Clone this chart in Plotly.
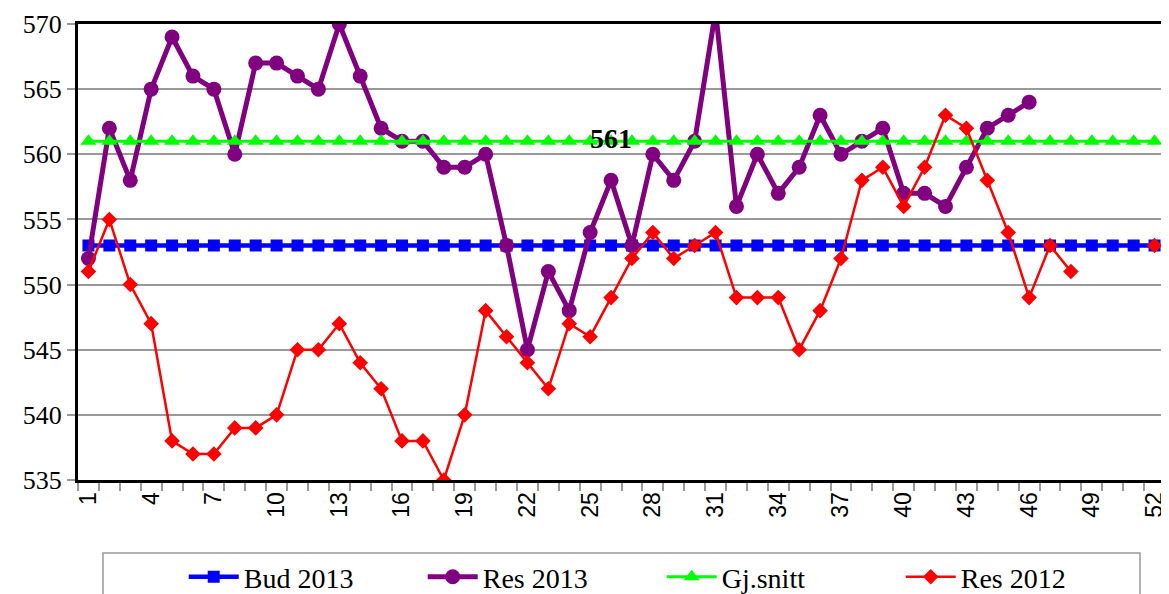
import plotly.graph_objects as go

weeks = list(range(1, 53))
bud_2013 = [553] * 52
gj_snitt = [561] * 52
res_2013 = [552, 562, 558, 565, 569, 566, 565, 560, 567, 567, 566, 565, 570, 566, 562, 561,
            561, 559, 559, 560, 553, 545, 551, 548, 554, 558, 553, 560, 558, 561, 571, 556,
            560, 557, 559, 563, 560, 561, 562, 557, 557, 556, 559, 562, 563, 564]
res_2012 = [551, 555, 550, 547, 538, 537, 537, 539, 539, 540, 545, 545, 547, 544, 542, 538,
            538, 535, 540, 548, 546, 544, 542, 547, 546, 549, 552, 554, 552, 553, 554, 549,
            549, 549, 545, 548, 552, 558, 559, 556, 559, 563, 562, 558, 554, 549, 553, 551,
            None, None, None, 553]
label_week = 26
x_tick_labels = list(range(1, 53, 3))
y_ticks = list(range(535, 571, 5))

SERIF = "Liberation Serif, Times New Roman, serif"
SANS = "Liberation Sans, Arial, sans-serif"

gj_text = ["" for _ in weeks]
gj_text[label_week - 1] = "<b>561</b>"

fig = go.Figure()
fig.add_trace(go.Scatter(x=weeks, y=bud_2013, name="Bud 2013", mode="lines+markers",
                         line=dict(color="#0000FF", width=4.5),
                         marker=dict(symbol="square", size=12, color="#0000FF")))
fig.add_trace(go.Scatter(x=weeks[:len(res_2013)], y=res_2013, name="Res 2013", mode="lines+markers",
                         line=dict(color="#800080", width=5),
                         marker=dict(symbol="circle", size=15, color="#800080")))
fig.add_trace(go.Scatter(x=weeks, y=gj_snitt, name="Gj.snitt", mode="lines+markers+text",
                         text=gj_text, textposition="middle center",
                         textfont=dict(family=SERIF, size=28, color="black"),
                         line=dict(color="#00FF00", width=3),
                         marker=dict(symbol="triangle-up", size=14, color="#00FF00")))
fig.add_trace(go.Scatter(x=weeks, y=res_2012, name="Res 2012", mode="lines+markers",
                         connectgaps=False,
                         line=dict(color="#FF0000", width=2.5),
                         marker=dict(symbol="diamond", size=12, color="#FF0000")))

fig.add_shape(type="rect", xref="paper", yref="paper", x0=0.023, x1=0.977, y0=-0.263, y1=-0.1601,
              line=dict(color="#999999", width=1.5), fillcolor="rgba(0,0,0,0)")

fig.update_layout(
    width=1161, height=586,
    margin=dict(l=70, r=4, t=16, b=114, autoexpand=False),
    paper_bgcolor="white", plot_bgcolor="white",
    font=dict(family=SERIF, color="black"),
    showlegend=True,
    legend=dict(orientation="h", x=0.537, xanchor="center", y=-0.2127, yanchor="middle",
                font=dict(family=SERIF, size=28, color="black"),
                itemwidth=50, entrywidth=174, entrywidthmode="pixels",
                bgcolor="rgba(0,0,0,0)", borderwidth=0),
    xaxis=dict(range=[0.5, 52.5], tickmode="array", tickvals=x_tick_labels,
               ticktext=[str(v) for v in x_tick_labels], tickangle=-90,
               ticks="", showgrid=False, zeroline=False, automargin=False,
               showline=True, linecolor="black", linewidth=3, mirror=True,
               tickfont=dict(family=SANS, size=23, color="black"),
               minor=dict(tick0=0.5, dtick=1, ticks="outside", ticklen=8, tickcolor="#999999",
                          tickwidth=1.5, showgrid=False)),
    yaxis=dict(range=[535, 570], tickmode="array", tickvals=y_ticks, automargin=False,
               ticks="outside", ticklen=8, tickcolor="#999999", tickwidth=1.5,
               showgrid=True, gridcolor="#999999", gridwidth=1.5, zeroline=False,
               showline=True, linecolor="black", linewidth=3, mirror=True,
               tickfont=dict(family=SERIF, size=26, color="black")),
)

fig.write_html("out.html")
